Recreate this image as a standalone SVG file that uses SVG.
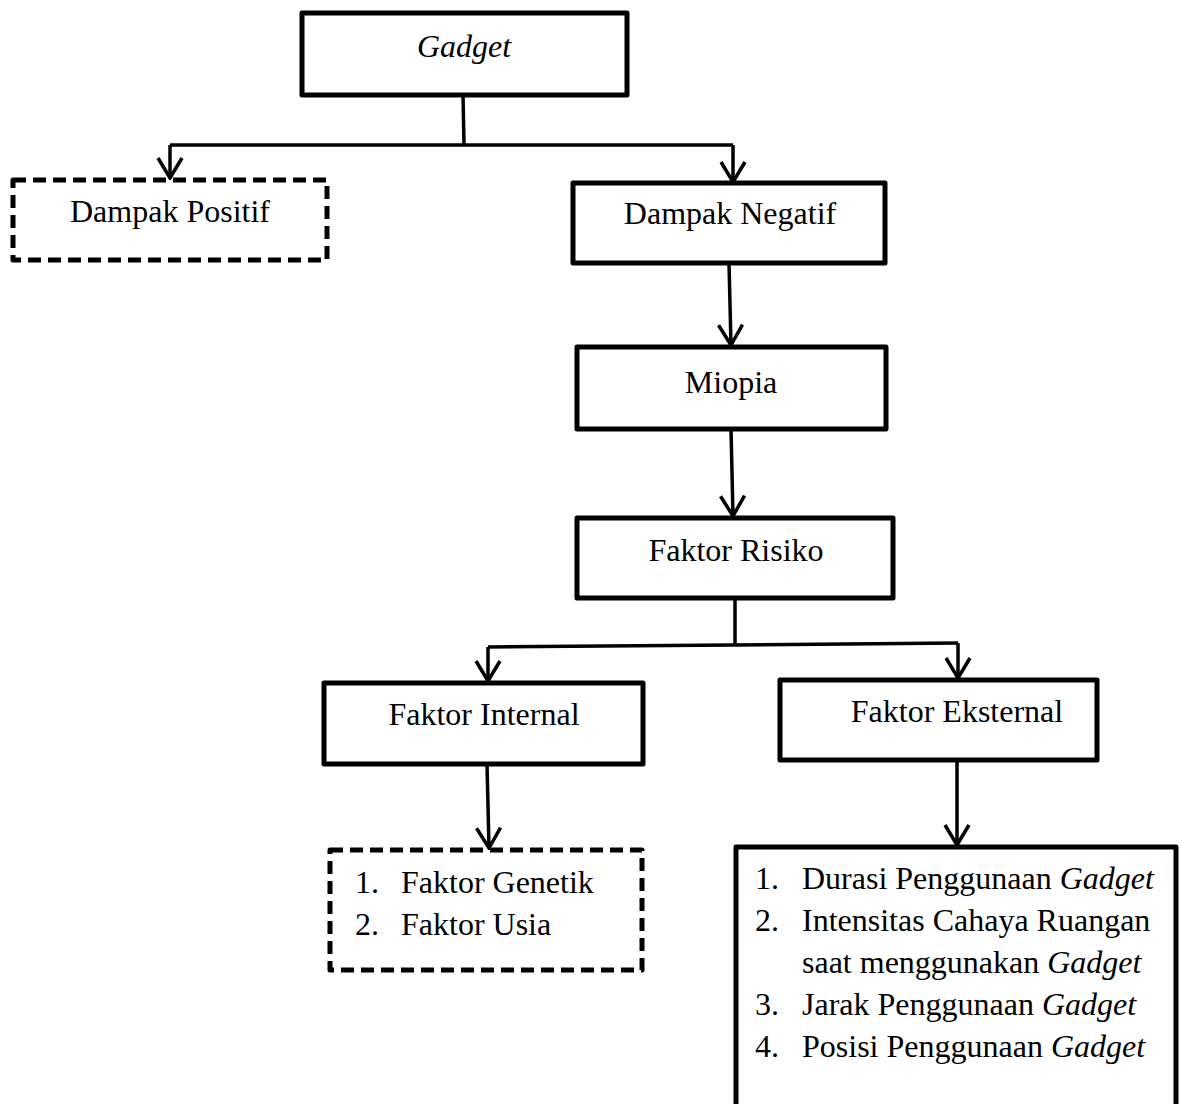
<svg xmlns="http://www.w3.org/2000/svg" width="1182" height="1104" viewBox="0 0 1182 1104">
<defs>
<style>
.box{fill:#fff;stroke:#000;stroke-width:5;stroke-linejoin:round}
.dash{fill:#fff;stroke:#000;stroke-width:5;stroke-dasharray:13 7;stroke-linejoin:round}
.t{font-family:"Liberation Serif","Times New Roman",serif;font-size:32px;fill:#000}
.c{text-anchor:middle}
.i{font-style:italic}
.ln{fill:none;stroke:#000;stroke-width:3.5}
</style>
<marker id="ah" viewBox="-2 -2 24 28" refX="20" refY="12" markerWidth="24" markerHeight="28" markerUnits="userSpaceOnUse" orient="auto">
<path d="M0,0 L20,12 L0,24" fill="none" stroke="#000" stroke-width="3.5"/>
</marker>
</defs>
<rect width="1182" height="1104" fill="#fff"/>
<g id="connectors">
<polyline class="ln" points="463,95 464,145"/>
<polyline class="ln" points="170,145 733,145"/>
<path class="ln" d="M170,145 V178" marker-end="url(#ah)"/>
<path class="ln" d="M733,145 V182" marker-end="url(#ah)"/>
<path class="ln" d="M729,263 L731,345" marker-end="url(#ah)"/>
<path class="ln" d="M731,429 L733,516" marker-end="url(#ah)"/>
<polyline class="ln" points="735,598 735,645"/>
<polyline class="ln" points="488,647 958,643"/>
<path class="ln" d="M488,647 V681" marker-end="url(#ah)"/>
<path class="ln" d="M958,643 V678" marker-end="url(#ah)"/>
<path class="ln" d="M487,764 L489,848" marker-end="url(#ah)"/>
<path class="ln" d="M957,760 L957,845" marker-end="url(#ah)"/>
</g>
<g id="gadget">
<rect class="box" x="302" y="13" width="325" height="82"/>
<text class="t c i" x="464" y="57">Gadget</text>
</g>
<g id="dampak-positif">
<rect class="dash" x="13" y="180" width="314" height="80"/>
<text class="t c" x="170" y="222">Dampak Positif</text>
</g>
<g id="dampak-negatif">
<rect class="box" x="573" y="183" width="312" height="80"/>
<text class="t c" x="730" y="224">Dampak Negatif</text>
</g>
<g id="miopia">
<rect class="box" x="577" y="347" width="309" height="82"/>
<text class="t c" x="731" y="393">Miopia</text>
</g>
<g id="faktor-risiko">
<rect class="box" x="577" y="518" width="316" height="80"/>
<text class="t c" x="736" y="561">Faktor Risiko</text>
</g>
<g id="faktor-internal">
<rect class="box" x="324" y="683" width="319" height="81"/>
<text class="t c" x="484" y="725">Faktor Internal</text>
</g>
<g id="faktor-eksternal">
<rect class="box" x="780" y="680" width="317" height="80"/>
<text class="t c" x="957" y="722">Faktor Eksternal</text>
</g>
<g id="internal-list">
<rect class="dash" x="330" y="850" width="312" height="120"/>
<text class="t" x="355" y="893">1.</text><text class="t" x="401" y="893">Faktor Genetik</text>
<text class="t" x="355" y="935">2.</text><text class="t" x="401" y="935">Faktor Usia</text>
</g>
<g id="eksternal-list">
<rect class="box" x="736" y="847" width="440" height="262"/>
<text class="t" x="755" y="889">1.</text><text class="t" x="802" y="889">Durasi Penggunaan <tspan class="i">Gadget</tspan></text>
<text class="t" x="755" y="931">2.</text><text class="t" x="802" y="931">Intensitas Cahaya Ruangan</text>
<text class="t" x="802" y="973">saat menggunakan <tspan class="i">Gadget</tspan></text>
<text class="t" x="755" y="1015">3.</text><text class="t" x="802" y="1015">Jarak Penggunaan <tspan class="i">Gadget</tspan></text>
<text class="t" x="755" y="1057">4.</text><text class="t" x="802" y="1057">Posisi Penggunaan <tspan class="i">Gadget</tspan></text>
</g>
</svg>
